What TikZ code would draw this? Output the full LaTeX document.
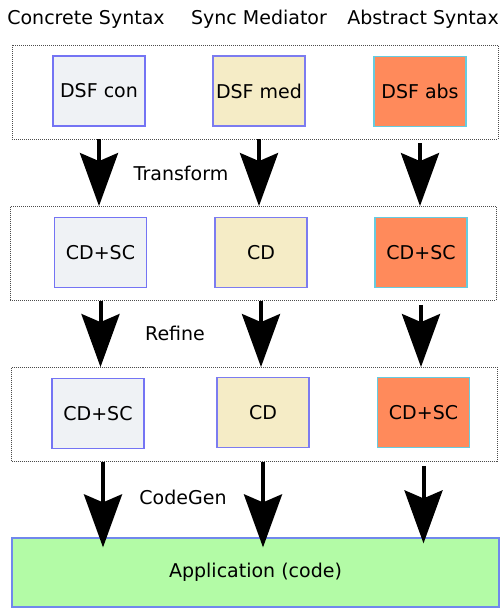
\documentclass[tikz,border=0pt]{standalone}
\usepackage{fontspec}
\setmainfont{DejaVu Sans}
\usepackage{xcolor}
\usetikzlibrary{arrows.meta,positioning}
\definecolor{conFill}{HTML}{EFF2F5}
\definecolor{conDraw}{HTML}{7474F4}
\definecolor{medFill}{HTML}{F5ECC6}
\definecolor{medDraw}{HTML}{7C7CF0}
\definecolor{absFill}{HTML}{FF8A5B}
\definecolor{absDraw}{HTML}{66CCE0}
\definecolor{appFill}{HTML}{B3FBA6}
\definecolor{appDraw}{HTML}{7088EC}
\tikzset{
	every node/.style={font=\fontsize{19}{23}\selectfont},
	frame/.style={draw=black!70, line width=0.8pt, dash pattern=on 1pt off 1pt, minimum width=486, minimum height=94, inner sep=0},
	art/.style={draw, line width=1.2pt, minimum width=92, minimum height=70, inner sep=0},
	con/.style={art, fill=conFill, draw=conDraw},
	med/.style={art, fill=medFill, draw=medDraw},
	abs/.style={art, fill=absFill, draw=absDraw},
	bigarrow/.style={line width=4pt, -{Stealth[length=53pt,width=38pt,inset=8pt]}},
}

\begin{document}
\begin{tikzpicture}[x=1pt,y=-1pt]
	\useasboundingbox (0,0) rectangle (501,609);
	
	% column titles
	\node (tcon) at (86,19) {Concrete Syntax};
	\node (tmed) at (259,19) {Sync Mediator};
	\node (tabs) at (423,19) {Abstract Syntax};
	
	% frames
	\node[frame] (row1) at (255,92) {};
	\node[frame] (row2) at (253,253.5) {};
	\node[frame] (row3) at (254.5,414.5) {};
	
	% artefacts
	\node[con] (con1) at (99,91) {DSF con};
	\node[med] (med1) at (259,91) {DSF med};
	\node[abs] (abs1) at (420,91.5) {DSF abs};
	
	\node[con] (con2) at (100.5,252.5) {CD+SC};
	\node[med] (med2) at (261,252.5) {CD};
	\node[abs] (abs2) at (421,252.5) {CD+SC};
	
	\node[con] (con3) at (98,413.5) {CD+SC};
	\node[med] (med3) at (263,412.5) {CD};
	\node[abs] (abs3) at (423.5,412.5) {CD+SC};
	
	\node[draw=appDraw, fill=appFill, line width=1.2pt, minimum width=487, minimum height=69] (app) at (255.5,572.5) {Application (code)};
	
	% steps
	\node (transform) at (181,173) {Transform};
	\node (refine) at (175,333) {Refine};
	\node (codegen) at (183,497) {CodeGen};
	
	\draw[bigarrow] (row1.south -| con1) -- (row2.north -| con1);
	\draw[bigarrow] (row1.south -| med1) -- (row2.north -| med1);
	\draw[bigarrow, shorten <=4pt] (row1.south -| abs1) -- (row2.north -| abs1);
	
	\draw[bigarrow] (row2.south -| con2) -- (row3.north -| con2);
	\draw[bigarrow] (row2.south -| med2) -- (row3.north -| med2);
	\draw[bigarrow, shorten <=4pt] (row2.south -| abs2) -- (row3.north -| abs2);
	
	\draw[bigarrow] ([xshift=5pt]row3.south -| con3) -- ([xshift=5pt,yshift=-10pt]app.north -| con3);
	\draw[bigarrow] (row3.south -| med3) -- ([yshift=-10pt]app.north -| med3);
	\draw[bigarrow, shorten <=4pt] (row3.south -| abs3) -- ([yshift=-6pt]app.north -| abs3);
\end{tikzpicture}
\end{document}
